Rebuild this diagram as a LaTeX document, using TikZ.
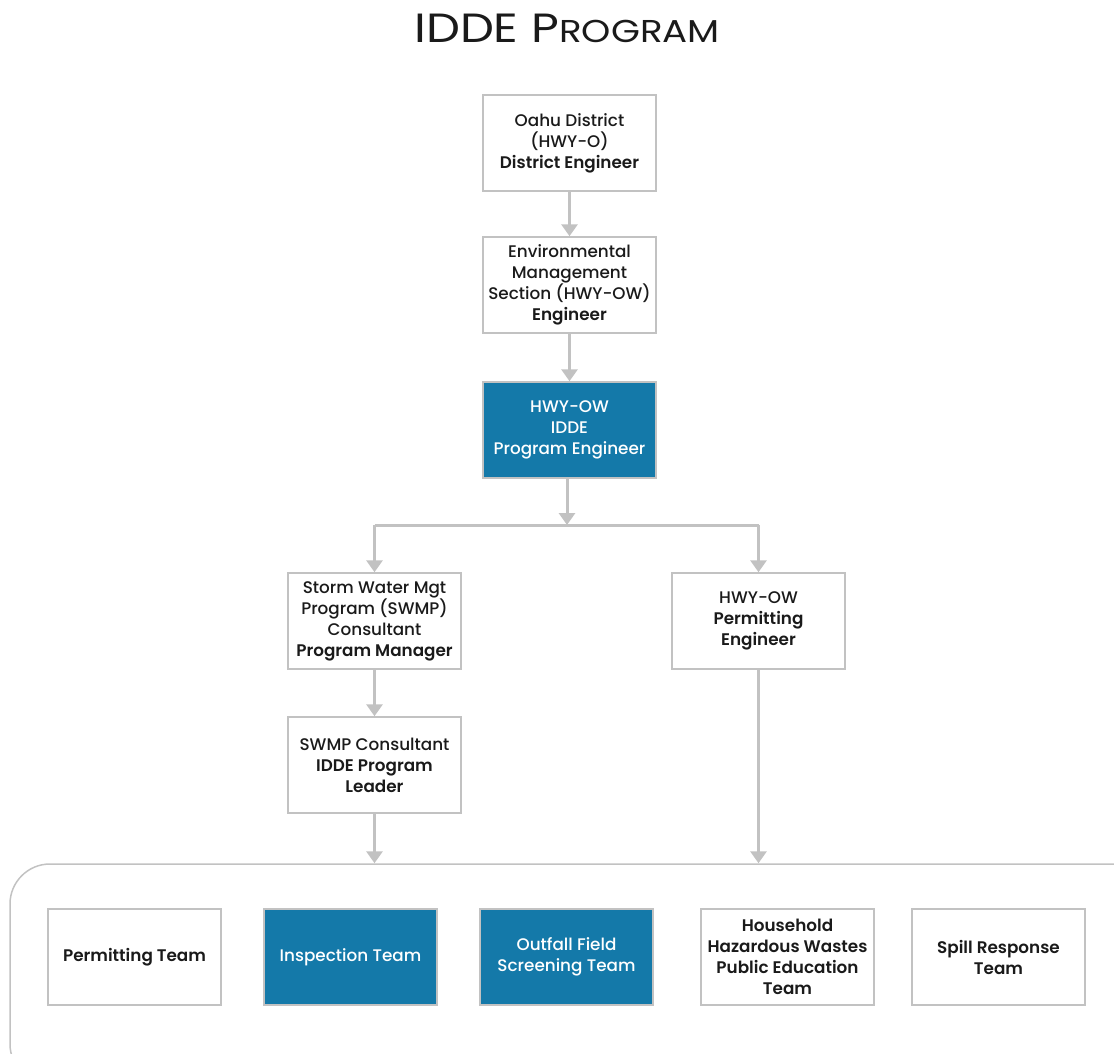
\documentclass[tikz,border=0pt]{standalone}
\usepackage{fontspec}
\setmainfont{Poppins}[UprightFont=* Medium, BoldFont=* SemiBold]
\newfontfamily\headfont{Poppins}
\usepackage{tikz}
\usetikzlibrary{arrows.meta}
\definecolor{frame}{HTML}{C2C2C2}
\definecolor{idde}{HTML}{1479A9}
\definecolor{ink}{HTML}{1A1A1A}

\tikzset{
  unit/.style={draw=frame, line width=1.5pt, fill=white, text=ink,
    minimum width=173pt, minimum height=96pt, inner sep=2pt,
    align=center, font=\fontsize{16.8}{21}\selectfont},
  lead/.style={unit, fill=idde, text=white},
  link/.style={draw=frame, line width=3pt, -{Triangle[width=16pt,length=12pt]}},
  wire/.style={draw=frame, line width=3pt},
  group/.style={draw=frame, line width=1.5pt, rounded corners=40pt,
    minimum width=1140pt, minimum height=220pt},
}

\begin{document}
\begin{tikzpicture}[x=1pt,y=-1pt]
\useasboundingbox (0,0) rectangle (1114,1053);
\clip (0,0) rectangle (1114,1053);
\node[anchor=base, text=ink, inner sep=0pt] (title) at (567,42)
  {\headfont\scalebox{1.2}[1.02]{\fontsize{40}{48}\selectfont IDDE P\fontsize{31}{40}\selectfont ROGRAM}};

% chain of command
\node[unit] (district) at (569.5,143) {Oahu District\\(HWY-O)\\\textbf{District Engineer}};
\node[unit] (envsec) at (569.5,285) {Environmental\\Management\\Section (HWY-OW)\\\textbf{Engineer}};
\node[lead] (idde) at (569.5,430) {HWY-OW\\IDDE\\Program Engineer};
\node[unit] (swmp) at (374.5,621) {Storm Water Mgt\\Program (SWMP)\\Consultant\\\textbf{Program Manager}};
\node[unit] (permit) at (758.5,621) {HWY-OW\\\textbf{Permitting}\\\textbf{Engineer}};
\node[unit] (leader) at (374.5,765) {SWMP Consultant\\\textbf{IDDE Program}\\\textbf{Leader}};

% teams
\node[group] (teams) at (580,974) {};
\node[unit] (pteam) at (134.5,957) {\textbf{Permitting Team}};
\node[lead] (iteam) at (350.5,957) {Inspection Team};
\node[lead] (oteam) at (566.5,957) {Outfall Field\\Screening Team};
\node[unit] (hteam) at (787.5,957) {\textbf{Household}\\\textbf{Hazardous Wastes}\\\textbf{Public Education}\\\textbf{Team}};
\node[unit] (steam) at (998.5,957) {\textbf{Spill Response}\\\textbf{Team}};

\coordinate (split) at (567,525);
\draw[link] (district) -- (envsec);
\draw[link] (envsec) -- (idde);
\draw[link] (idde.south -| split) -- (split);
\draw[wire] (swmp.north |- split) -- (permit.north |- split);
\draw[link] (swmp.north |- split) -- (swmp);
\draw[link] (permit.north |- split) -- (permit);
\draw[link] (swmp) -- (leader);
\draw[link] (leader) -- (leader.south |- teams.north);
\draw[link] (permit) -- (permit.south |- teams.north);
\end{tikzpicture}
\end{document}
